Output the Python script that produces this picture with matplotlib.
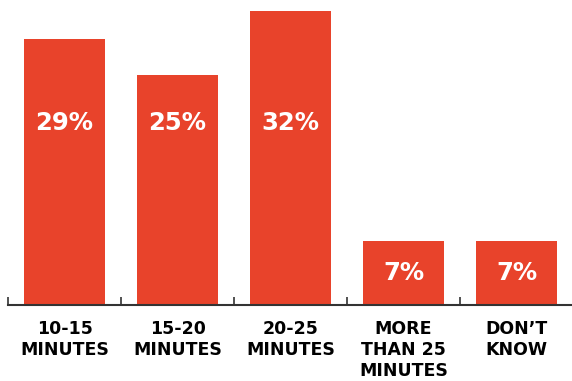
import matplotlib.pyplot as plt
import numpy as np

categories = ["10-15\nMINUTES", "15-20\nMINUTES", "20-25\nMINUTES",
              "MORE\nTHAN 25\nMINUTES", "DON\u2019T\nKNOW"]
values = [29, 25, 32, 7, 7]

bar_color = "#E8432B"

fig = plt.figure(figsize=(5.72, 3.81), dpi=100)
ax = fig.add_axes([8 / 572, 76 / 381, 565 / 572, 305 / 381])

x = np.arange(len(values))
ax.bar(x, values, width=0.72, color=bar_color)

# percentage labels inside the bars
for xi, v in zip(x, values):
    y = v / 2 if v < 10 else 19.8
    ax.text(xi, y, f"{v}%", ha="center", va="center", color="white",
            fontsize=17.5, fontweight="bold", family="DejaVu Sans")

ax.set_xlim(-0.5, 4.5)
ax.set_ylim(0, 33.2)

for side in ["top", "right", "left"]:
    ax.spines[side].set_visible(False)
ax.spines["bottom"].set_color("#333333")
ax.spines["bottom"].set_linewidth(1.5)

ax.set_yticks([])
ax.set_xticks(x)
ax.set_xticklabels(categories, fontsize=12.5, fontweight="bold",
                   linespacing=1.2, va="top")
ax.tick_params(axis="x", which="major", length=0, pad=11)
ax.set_xticks(np.arange(-0.5, 4.0, 1.0), minor=True)
ax.tick_params(axis="x", which="minor", direction="in", length=6,
               width=1.2, color="#333333")

fig.savefig("out.png", dpi=100)
